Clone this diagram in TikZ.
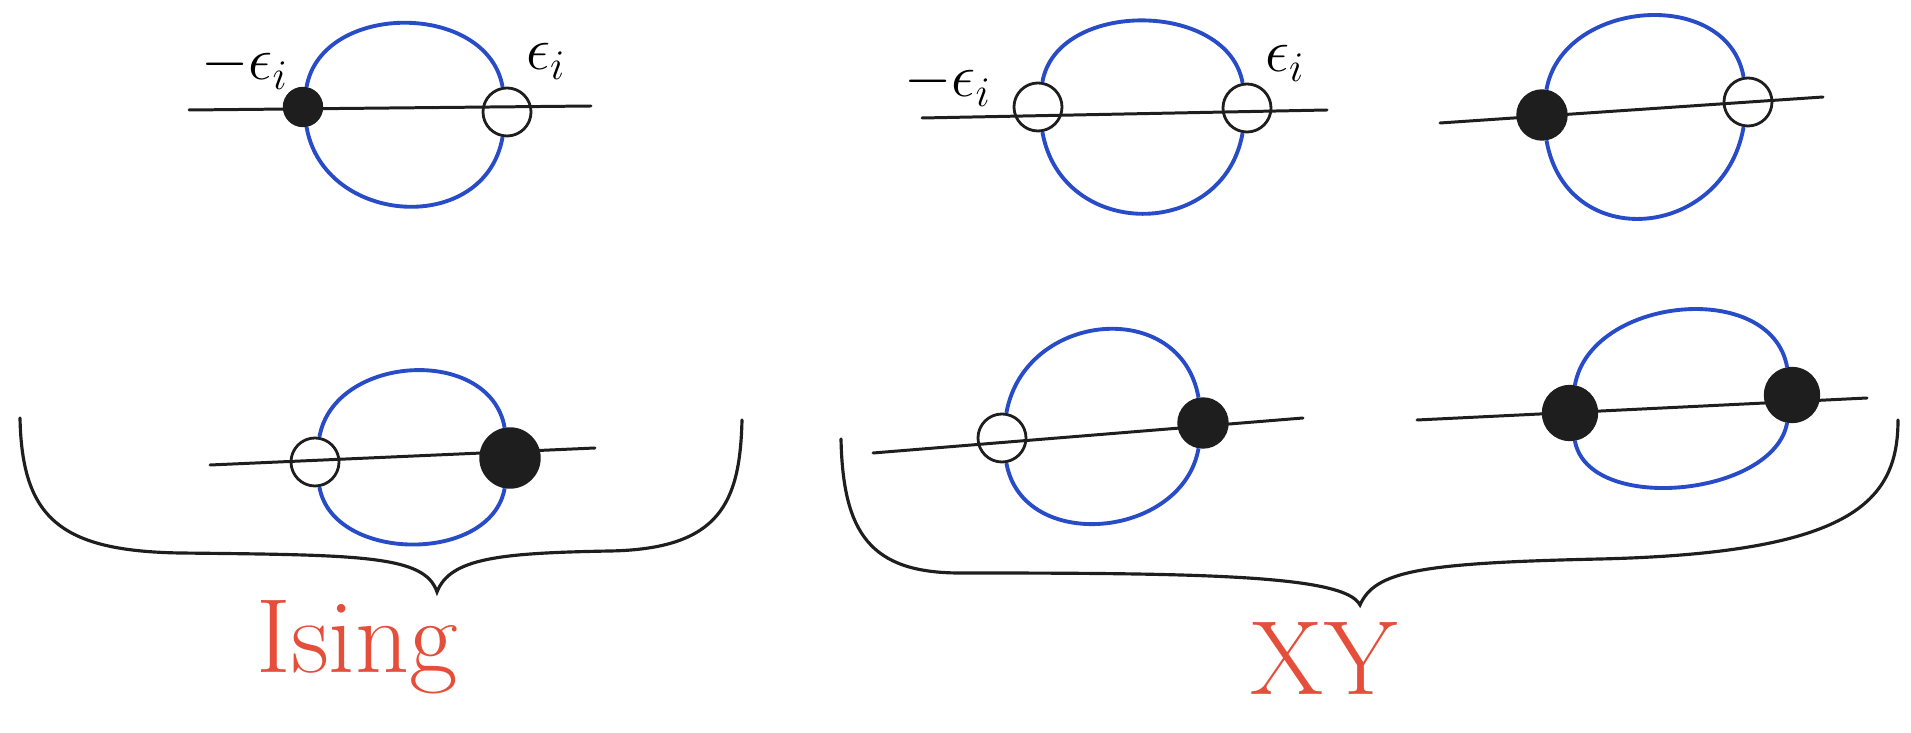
\documentclass[tikz,border=0pt]{standalone}

\definecolor{penblue}{RGB}{40,75,200}
\definecolor{penred}{RGB}{228,78,58}
\definecolor{ink}{RGB}{30,30,30}

\begin{document}
\begin{tikzpicture}[x=0.01cm, y=0.01cm,
  axis/.style={draw=ink, line width=0.85pt, line cap=round},
  loopline/.style={draw=penblue, line width=1.1pt},
  fulldot/.style={circle, draw=ink, fill=ink, inner sep=0pt, minimum size=#1},
  fulldot/.default=0.5cm,
  opendot/.style={circle, draw=ink, line width=0.8pt, inner sep=0pt, minimum size=0.48cm},
  brace/.style={draw=ink, line width=0.9pt, line cap=round},
  eps/.style={anchor=base, font=\fontsize{18}{20}\selectfont},
  tag/.style={anchor=base, text=penred, font=\fontsize{30}{34}\selectfont}]

  \useasboundingbox (0,0) rectangle (1911,733);

  % Ising, upper
  \coordinate (i1a) at (189,623);
  \coordinate (i1b) at (591,627);
  \node[fulldot=0.39cm] (i1l) at (303,626) {};
  \node[opendot] (i1r) at (507,621) {};
  \draw[axis] (i1a) -- (i1b);
  \draw[loopline] (i1l) to[out=80,in=100,distance=0.87cm] (i1r)
    to[out=-100,in=-80,distance=1.01cm] (i1l);
  \node[eps] (i1lt) at (245,653) {$-\epsilon_i$};
  \node[eps] (i1rt) at (546,663) {$\epsilon_i$};

  % Ising, lower
  \coordinate (i2a) at (210,268);
  \coordinate (i2b) at (595,285);
  \node[opendot] (i2l) at (315,271) {};
  \node[fulldot=0.6cm] (i2r) at (510,275) {};
  \draw[axis] (i2a) -- (i2b);
  \draw[loopline] (i2l) to[out=80,in=100,distance=0.84cm] (i2r)
    to[out=-100,in=-80,distance=0.77cm] (i2l);

  % XY, upper left
  \coordinate (x1a) at (922,615);
  \coordinate (x1b) at (1327,623);
  \node[opendot] (x1l) at (1038,626) {};
  \node[opendot] (x1r) at (1247,625) {};
  \draw[axis] (x1a) -- (x1b);
  \draw[loopline] (x1l) to[out=80,in=100,distance=0.84cm] (x1r)
    to[out=-100,in=-80,distance=1.1cm] (x1l);
  \node[eps] (x1lt) at (948,636) {$-\epsilon_i$};
  \node[eps] (x1rt) at (1285,661) {$\epsilon_i$};

  % XY, upper right
  \coordinate (x2a) at (1440,610);
  \coordinate (x2b) at (1823,636);
  \node[fulldot] (x2l) at (1542,618) {};
  \node[opendot] (x2r) at (1748,631) {};
  \draw[axis] (x2a) -- (x2b);
  \draw[loopline] (x2l) to[out=80,in=100,distance=0.92cm] (x2r)
    to[out=-100,in=-80,distance=1.15cm] (x2l);

  % XY, lower left
  \coordinate (x3a) at (873,280);
  \coordinate (x3b) at (1303,315);
  \node[opendot] (x3l) at (1002,295) {};
  \node[fulldot] (x3r) at (1203,310) {};
  \draw[axis] (x3a) -- (x3b);
  \draw[loopline] (x3l) to[out=80,in=100,distance=1.03cm] (x3r)
    to[out=-100,in=-80,distance=0.92cm] (x3l);

  % XY, lower right
  \coordinate (x4a) at (1417,313);
  \coordinate (x4b) at (1867,335);
  \node[fulldot=0.55cm] (x4l) at (1570,320) {};
  \node[fulldot=0.55cm] (x4r) at (1792,338) {};
  \draw[axis] (x4a) -- (x4b);
  \draw[loopline] (x4l) to[out=80,in=100,distance=0.9cm] (x4r)
    to[out=-100,in=-80,distance=0.75cm] (x4l);

  % braces
  \draw[brace] (20,315) .. controls (22,215) and (60,182) .. (180,180)
    .. controls (360,178) and (425,178) .. (437,141)
    .. controls (450,175) and (500,180) .. (610,182)
    .. controls (720,184) and (740,230) .. (742,313);
  \draw[brace] (841,294) .. controls (843,200) and (870,160) .. (960,160)
    .. controls (1200,160) and (1345,158) .. (1360,128)
    .. controls (1375,162) and (1420,170) .. (1600,174)
    .. controls (1850,180) and (1898,230) .. (1898,313);

  \node[tag] (ising) at (357,60) {Ising};
  \node[tag] (xy) at (1324,38) {XY};
\end{tikzpicture}
\end{document}
